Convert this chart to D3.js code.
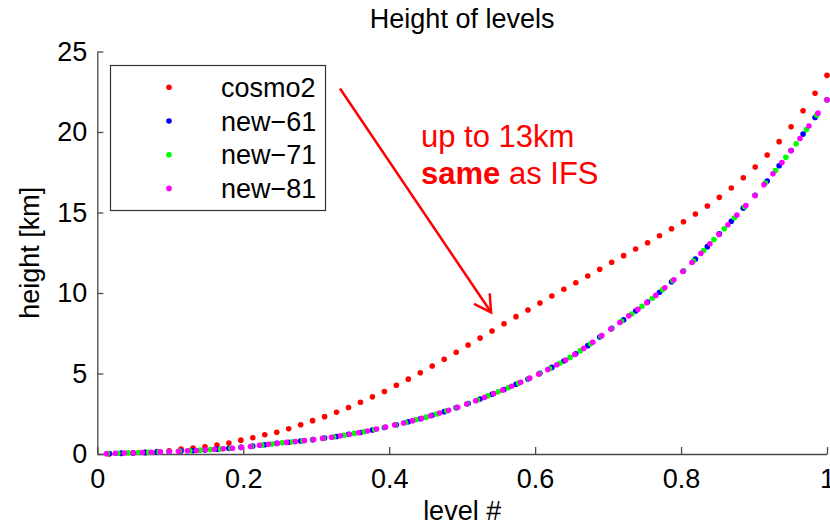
<!DOCTYPE html>
<html>
<head>
<meta charset="utf-8">
<script src="https://cdn.jsdelivr.net/npm/d3@7"></script>
<style>
  html, body { margin: 0; padding: 0; background: #fff; }
  svg { display: block; }
  text { font-family: "Liberation Sans", Arial, Helvetica, sans-serif; }
</style>
</head>
<body>
<svg id="chart" width="830" height="526"></svg>
<script>
// Normalised level index vs. height of model levels [km]
const seriesNames = ["cosmo2", "new\u221261", "new\u221271", "new\u221281"];
const seriesColors = ["#ff0000", "#0000ff", "#00ff00", "#ff00ff"];

const cosmo2 = [
  0.01, 0.03, 0.06, 0.10, 0.15, 0.20, 0.30, 0.37, 0.45, 0.56,
  0.68, 0.86, 1.01, 1.20, 1.35, 1.57, 1.82, 2.07, 2.32, 2.59,
  2.89, 3.21, 3.55, 3.88, 4.27, 4.65, 5.05, 5.47, 5.88, 6.32,
  6.77, 7.20, 7.64, 8.09, 8.53, 8.94, 9.38, 9.81, 10.23, 10.64,
  11.06, 11.47, 11.91, 12.32, 12.73, 13.12, 13.56, 13.99, 14.43, 14.91,
  15.40, 15.94, 16.52, 17.16, 17.82, 18.57, 19.40, 20.32, 21.32, 22.40,
  23.52
];

const new61 = [
  0.03, 0.06, 0.08, 0.10, 0.12, 0.15, 0.18, 0.21, 0.25, 0.30,
  0.35, 0.41, 0.49, 0.57, 0.66, 0.73, 0.81, 0.89, 0.99, 1.09,
  1.22, 1.34, 1.49, 1.65, 1.82, 2.00, 2.19, 2.40, 2.63, 2.88,
  3.14, 3.42, 3.71, 4.01, 4.33, 4.66, 5.01, 5.38, 5.78, 6.22,
  6.73, 7.26, 7.80, 8.33, 8.88, 9.44, 10.05, 10.70, 11.37, 12.11,
  12.88, 13.67, 14.46, 15.27, 16.07, 16.96, 17.90, 18.85, 19.87, 20.90,
  22.00
];

const new71 = [
  0.03, 0.05, 0.07, 0.09, 0.10, 0.13, 0.15, 0.18, 0.20, 0.24,
  0.27, 0.31, 0.36, 0.41, 0.48, 0.55, 0.62, 0.70, 0.76, 0.82,
  0.90, 0.97, 1.06, 1.16, 1.28, 1.39, 1.52, 1.66, 1.81, 1.96,
  2.13, 2.29, 2.48, 2.68, 2.89, 3.12, 3.35, 3.61, 3.86, 4.12,
  4.40, 4.69, 4.99, 5.31, 5.64, 6.00, 6.42, 6.85, 7.31, 7.78,
  8.25, 8.70, 9.17, 9.67, 10.21, 10.77, 11.35, 11.98, 12.64, 13.32,
  13.99, 14.67, 15.36, 16.06, 16.83, 17.61, 18.43, 19.27, 20.15, 21.05,
  22.00
];

const new81 = [
  0.02, 0.05, 0.06, 0.08, 0.09, 0.11, 0.13, 0.15, 0.17, 0.20,
  0.22, 0.26, 0.29, 0.32, 0.36, 0.41, 0.47, 0.54, 0.60, 0.66,
  0.72, 0.77, 0.83, 0.90, 0.97, 1.04, 1.13, 1.23, 1.32, 1.43,
  1.55, 1.67, 1.80, 1.93, 2.07, 2.21, 2.37, 2.54, 2.71, 2.90,
  3.10, 3.31, 3.52, 3.75, 3.97, 4.21, 4.46, 4.71, 4.97, 5.25,
  5.54, 5.84, 6.18, 6.56, 6.94, 7.35, 7.76, 8.17, 8.58, 8.98,
  9.40, 9.85, 10.33, 10.82, 11.34, 11.89, 12.46, 13.06, 13.64, 14.24,
  14.84, 15.43, 16.05, 16.73, 17.40, 18.11, 18.84, 19.60, 20.37, 21.17,
  22.00
];

const xTicks = [0, 0.2, 0.4, 0.6, 0.8, 1];
const yTicks = [0, 5, 10, 15, 20, 25];
const xTickLabels = ["0", "0.2", "0.4", "0.6", "0.8", "1"];
const yTickLabels = ["0", "5", "10", "15", "20", "25"];

const titleText = "Height of levels";
const xLabel = "level #";
const yLabel = "height [km]";
const noteLine1 = "up to 13km";
const noteBold = "same";
const noteRest = " as IFS";

// ---------------------------------------------------------------------------
const svg = d3.select("#chart");
const plotLeft = 97.3, plotRight = 827, plotTop = 51.5, plotBottom = 454;
const baseFont = 27;
const axisColor = "#4a4a4a";

const x = d3.scaleLinear().domain([0, 1]).range([plotLeft, plotRight]);
const y = d3.scaleLinear().domain([0, 25]).range([plotBottom, plotTop]);

// each series: level i (1..N) sits at i/N
const allSeries = [cosmo2, new61, new71, new81].map((vals, k) => ({
  name: seriesNames[k],
  color: seriesColors[k],
  points: vals.map((v, i) => ({ lev: (i + 1) / vals.length, h: v }))
}));

// axes (ticks pointing into the plot, no box)
const xAxis = d3.axisBottom(x).tickValues(xTicks)
  .tickFormat((d, i) => xTickLabels[i]).tickSizeInner(-7).tickSizeOuter(0).tickPadding(15);
const yAxis = d3.axisLeft(y).tickValues(yTicks)
  .tickFormat((d, i) => yTickLabels[i]).tickSizeInner(-6).tickSizeOuter(0).tickPadding(10);

const gx = svg.append("g").attr("transform", `translate(0,${plotBottom})`).call(xAxis);
const gy = svg.append("g").attr("transform", `translate(${plotLeft},0)`).call(yAxis);
[gx, gy].forEach(g => {
  g.select(".domain").attr("stroke", axisColor).attr("stroke-width", 1.3);
  g.selectAll(".tick line").attr("stroke", axisColor).attr("stroke-width", 1.3);
  g.selectAll(".tick text").attr("fill", "#000")
    .style("font-size", baseFont + "px")
    .style("font-family", "'Liberation Sans', Arial, sans-serif");
});

// dots
const dotR = 2.8;
allSeries.forEach(s => {
  svg.append("g").selectAll("circle").data(s.points).join("circle")
    .attr("cx", d => x(d.lev))
    .attr("cy", d => y(d.h))
    .attr("r", dotR)
    .attr("fill", s.color);
});

// title and axis labels
const midX = (plotLeft + plotRight) / 2;
svg.append("text").attr("x", midX).attr("y", 28)
  .attr("text-anchor", "middle").style("font-size", baseFont + "px").text(titleText);
svg.append("text").attr("x", midX).attr("y", 520)
  .attr("text-anchor", "middle").style("font-size", baseFont + "px").text(xLabel);
svg.append("text")
  .attr("transform", `translate(39,${(plotTop + plotBottom) / 2}) rotate(-90)`)
  .attr("text-anchor", "middle").style("font-size", baseFont + "px").text(yLabel);

// legend
const legend = svg.append("g").attr("transform", "translate(110,65)");
legend.append("rect").attr("x", 0.5).attr("y", 0.5).attr("width", 215).attr("height", 145)
  .attr("fill", "#fff").attr("stroke", "#333").attr("stroke-width", 1.2);
allSeries.forEach((s, k) => {
  const row = legend.append("g").attr("transform", `translate(0,${22.3 + k * 33.7})`);
  row.append("circle").attr("cx", 59).attr("cy", 0).attr("r", dotR).attr("fill", s.color);
  row.append("text").attr("x", 111).attr("y", 9.5)
    .style("font-size", baseFont + "px").attr("fill", "#000").text(s.name);
});

// annotation
const noteColor = "#ff0000";
const note = svg.append("g");
note.append("text").attr("x", 421).attr("y", 146.7)
  .style("font-size", "31px").attr("fill", noteColor).text(noteLine1);
const t2 = note.append("text").attr("x", 421).attr("y", 184.3)
  .style("font-size", "31px").attr("fill", noteColor);
t2.append("tspan").attr("font-weight", "bold").text(noteBold);
t2.append("tspan").text(noteRest);

// arrow from the legend corner down to the cosmo2 curve
const tail = [x(0.3326), y(22.7)];
const tip = [x(0.5396), y(8.80)];
note.append("line")
  .attr("x1", tail[0]).attr("y1", tail[1]).attr("x2", tip[0]).attr("y2", tip[1])
  .attr("stroke", noteColor).attr("stroke-width", 2.5);
const ang = Math.atan2(tip[1] - tail[1], tip[0] - tail[0]);
const headLen = 19, headSpread = Math.PI / 6;
const wing = s => [tip[0] - headLen * Math.cos(ang + s), tip[1] - headLen * Math.sin(ang + s)];
note.append("path")
  .attr("d", d3.line()([wing(headSpread), tip, wing(-headSpread)]))
  .attr("fill", "none").attr("stroke", noteColor).attr("stroke-width", 2.5)
  .attr("stroke-linejoin", "miter");
</script>
</body>
</html>
